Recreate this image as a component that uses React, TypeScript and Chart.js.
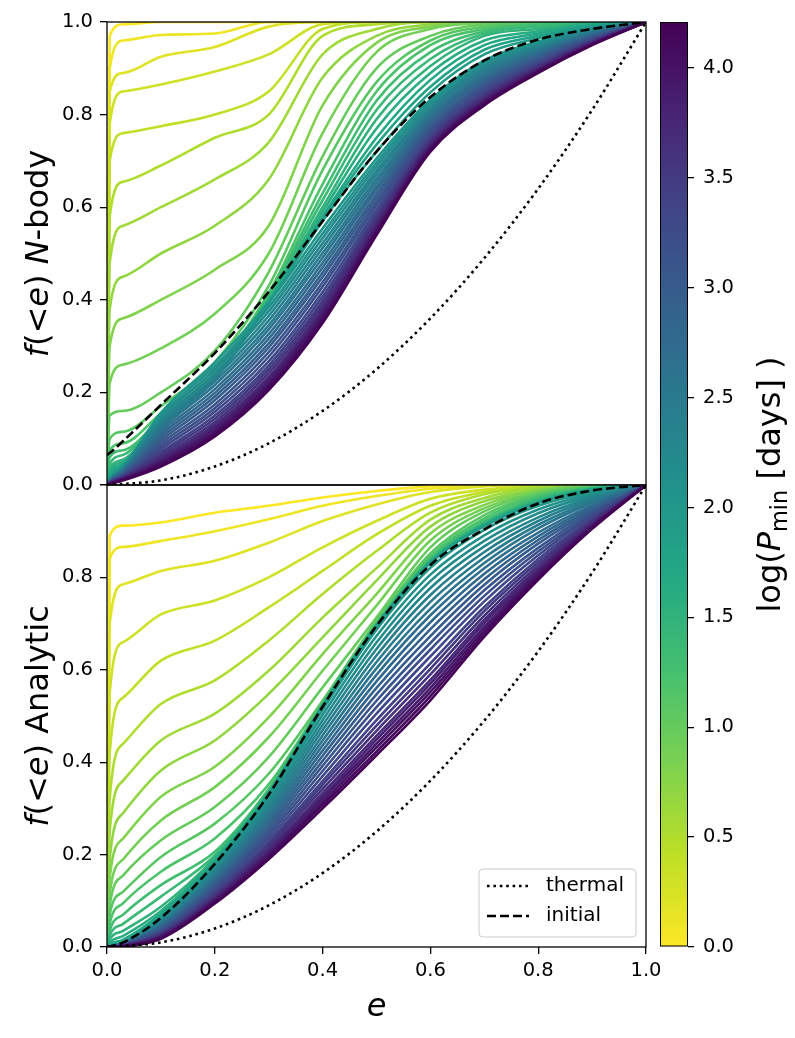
import React, { useEffect, useRef } from "react";
import { Chart, registerables } from "chart.js";

Chart.register(...registerables);

const FONT = '"DejaVu Sans", "Liberation Sans", sans-serif';

// Eccentricity sample points shared by every cumulative curve
const E_GRID = [0, 0.005, 0.03, 0.1, 0.2, 0.3, 0.4, 0.5, 0.6, 0.7, 0.8, 0.9, 1.0];

// log10 of the minimum period (days) attached to each curve
const LOG_PMIN = [
  0.0, 0.1, 0.2, 0.3, 0.4, 0.5, 0.6, 0.7, 0.8, 0.9, 1.0, 1.1, 1.2, 1.3, 1.4,
  1.5, 1.6, 1.7, 1.8, 1.9, 2.0, 2.1, 2.2, 2.3, 2.4, 2.5, 2.6, 2.7, 2.8, 2.9,
  3.0, 3.1, 3.2, 3.3, 3.4, 3.5, 3.6, 3.7, 3.8, 3.9, 4.0, 4.1, 4.2,
];

// Colour bar range and its tick values
const CBAR_RANGE = [0, 4.21];
const CBAR_TICKS = [0.0, 0.5, 1.0, 1.5, 2.0, 2.5, 3.0, 3.5, 4.0];
const F_TICKS = [0.0, 0.2, 0.4, 0.6, 0.8, 1.0];
const E_TICKS = [0.0, 0.2, 0.4, 0.6, 0.8, 1.0];

// N-body cumulative fractions f(<e), one row per log Pmin, sampled on E_GRID
const NBODY_CURVES = [
  [0, 0.97, 0.995, 1, 1, 1, 1, 1, 1, 1, 1, 1, 1],
  [0, 0.9, 0.96, 0.972, 0.975, 1, 1, 1, 1, 1, 1, 1, 1],
  [0, 0.85, 0.89, 0.925, 0.946, 0.99, 1, 1, 1, 1, 1, 1, 1],
  [0, 0.78, 0.85, 0.865, 0.893, 0.93, 0.995, 1, 1, 1, 1, 1, 1],
  [0, 0.7, 0.76, 0.775, 0.8, 0.85, 0.985, 1, 1, 1, 1, 1, 1],
  [0, 0.58, 0.655, 0.69, 0.75, 0.8, 0.97, 0.995, 1, 1, 1, 1, 1],
  [0, 0.48, 0.56, 0.6, 0.66, 0.74, 0.93, 0.985, 1, 1, 1, 1, 1],
  [0, 0.38, 0.45, 0.5, 0.56, 0.66, 0.88, 0.97, 0.995, 1, 1, 1, 1],
  [0, 0.3, 0.36, 0.4, 0.465, 0.56, 0.82, 0.955, 0.99, 1, 1, 1, 1],
  [0, 0.22, 0.26, 0.295, 0.37, 0.5, 0.76, 0.935, 0.985, 0.998, 1, 1, 1],
  [0, 0.15, 0.16, 0.2, 0.29, 0.46, 0.71, 0.9, 0.97, 0.995, 1, 1, 1],
  [0, 0.1, 0.115, 0.17, 0.265, 0.43, 0.68, 0.87, 0.96, 0.99, 0.998, 1, 1],
  [0, 0.075, 0.09, 0.155, 0.25, 0.415, 0.65, 0.85, 0.95, 0.985, 0.996, 1, 1],
  [0, 0.06, 0.075, 0.145, 0.245, 0.41, 0.63, 0.83, 0.935, 0.98, 0.994, 0.999, 1],
  [0, 0.045, 0.065, 0.14, 0.24, 0.405, 0.615, 0.81, 0.92, 0.975, 0.99, 0.998, 1],
  [0, 0.035, 0.055, 0.135, 0.237, 0.4, 0.6, 0.79, 0.905, 0.97, 0.985, 0.997, 1],
  [0, 0.028, 0.05, 0.13, 0.234, 0.398, 0.59, 0.77, 0.89, 0.96, 0.98, 0.996, 1],
  [0, 0.022, 0.046, 0.128, 0.232, 0.396, 0.58, 0.75, 0.875, 0.95, 0.975, 0.994, 1],
  [0, 0.018, 0.044, 0.126, 0.23, 0.394, 0.575, 0.735, 0.86, 0.94, 0.97, 0.992, 1],
  [0, 0.015, 0.042, 0.124, 0.228, 0.392, 0.57, 0.72, 0.848, 0.93, 0.965, 0.99, 1],
  [0, 0.012, 0.039, 0.156, 0.265, 0.394, 0.554, 0.705, 0.832, 0.917, 0.958, 0.987, 1],
  [0, 0.011, 0.038, 0.15, 0.257, 0.384, 0.543, 0.696, 0.826, 0.912, 0.954, 0.985, 1],
  [0, 0.011, 0.036, 0.144, 0.249, 0.375, 0.533, 0.688, 0.82, 0.907, 0.951, 0.983, 1],
  [0, 0.01, 0.035, 0.138, 0.24, 0.365, 0.522, 0.679, 0.814, 0.902, 0.947, 0.981, 1],
  [0, 0.01, 0.033, 0.132, 0.232, 0.355, 0.512, 0.671, 0.809, 0.897, 0.944, 0.979, 1],
  [0, 0.009, 0.032, 0.126, 0.224, 0.345, 0.501, 0.662, 0.803, 0.892, 0.94, 0.977, 1],
  [0, 0.009, 0.03, 0.12, 0.216, 0.336, 0.491, 0.654, 0.797, 0.887, 0.937, 0.975, 1],
  [0, 0.008, 0.029, 0.114, 0.207, 0.326, 0.48, 0.645, 0.791, 0.882, 0.933, 0.974, 1],
  [0, 0.008, 0.027, 0.108, 0.199, 0.316, 0.47, 0.637, 0.786, 0.877, 0.93, 0.972, 1],
  [0, 0.007, 0.026, 0.102, 0.191, 0.306, 0.459, 0.628, 0.78, 0.872, 0.926, 0.97, 1],
  [0, 0.007, 0.024, 0.096, 0.183, 0.297, 0.449, 0.62, 0.774, 0.867, 0.923, 0.968, 1],
  [0, 0.006, 0.023, 0.09, 0.174, 0.287, 0.438, 0.611, 0.768, 0.862, 0.919, 0.966, 1],
  [0, 0.006, 0.021, 0.084, 0.166, 0.277, 0.428, 0.603, 0.763, 0.857, 0.916, 0.964, 1],
  [0, 0.005, 0.02, 0.078, 0.158, 0.267, 0.417, 0.594, 0.757, 0.852, 0.912, 0.962, 1],
  [0, 0.005, 0.018, 0.072, 0.15, 0.258, 0.407, 0.586, 0.751, 0.847, 0.909, 0.96, 1],
  [0, 0.004, 0.017, 0.068, 0.143, 0.25, 0.398, 0.579, 0.746, 0.843, 0.906, 0.959, 1],
  [0, 0.004, 0.016, 0.063, 0.136, 0.242, 0.39, 0.572, 0.742, 0.839, 0.903, 0.957, 1],
  [0, 0.004, 0.015, 0.058, 0.13, 0.234, 0.382, 0.566, 0.737, 0.835, 0.901, 0.956, 1],
  [0, 0.003, 0.014, 0.054, 0.125, 0.228, 0.375, 0.56, 0.734, 0.832, 0.898, 0.955, 1],
  [0, 0.003, 0.013, 0.051, 0.12, 0.223, 0.369, 0.555, 0.73, 0.829, 0.896, 0.953, 1],
  [0, 0.003, 0.012, 0.047, 0.115, 0.217, 0.363, 0.55, 0.727, 0.826, 0.894, 0.952, 1],
  [0, 0.002, 0.011, 0.044, 0.11, 0.211, 0.356, 0.545, 0.723, 0.823, 0.892, 0.951, 1],
  [0, 0.002, 0.01, 0.04, 0.105, 0.205, 0.35, 0.54, 0.72, 0.82, 0.89, 0.95, 1],
];

// Analytic cumulative fractions f(<e), one row per log Pmin, sampled on E_GRID
const ANALYTIC_CURVES = [
  [0, 0.89, 0.912, 0.919, 0.94, 0.955, 0.973, 0.987, 0.997, 1, 1, 1, 1],
  [0, 0.84, 0.866, 0.879, 0.9, 0.926, 0.955, 0.976, 0.992, 0.999, 1, 1, 1],
  [0, 0.7, 0.785, 0.814, 0.836, 0.875, 0.922, 0.958, 0.985, 0.997, 1, 1, 1],
  [0, 0.55, 0.66, 0.72, 0.75, 0.8, 0.865, 0.922, 0.97, 0.99, 0.998, 1, 1],
  [0, 0.42, 0.54, 0.62, 0.663, 0.735, 0.814, 0.893, 0.955, 0.985, 0.997, 1, 1],
  [0, 0.32, 0.44, 0.526, 0.577, 0.663, 0.764, 0.857, 0.94, 0.98, 0.996, 1, 1],
  [0, 0.25, 0.36, 0.447, 0.505, 0.598, 0.713, 0.82, 0.925, 0.972, 0.994, 0.999, 1],
  [0, 0.19, 0.29, 0.382, 0.447, 0.548, 0.67, 0.793, 0.91, 0.965, 0.99, 0.999, 1],
  [0, 0.15, 0.235, 0.325, 0.39, 0.497, 0.634, 0.764, 0.895, 0.957, 0.988, 0.998, 1],
  [0, 0.115, 0.19, 0.274, 0.346, 0.454, 0.598, 0.739, 0.88, 0.95, 0.985, 0.998, 1],
  [0, 0.09, 0.155, 0.231, 0.303, 0.411, 0.562, 0.713, 0.865, 0.943, 0.982, 0.997, 1],
  [0, 0.07, 0.12, 0.195, 0.267, 0.375, 0.533, 0.705, 0.852, 0.935, 0.979, 0.996, 1],
  [0, 0.05, 0.095, 0.163, 0.235, 0.352, 0.527, 0.7, 0.845, 0.928, 0.976, 0.995, 1],
  [0, 0.035, 0.07, 0.134, 0.206, 0.342, 0.525, 0.698, 0.84, 0.922, 0.972, 0.994, 1],
  [0, 0.025, 0.05, 0.109, 0.198, 0.337, 0.524, 0.697, 0.837, 0.918, 0.969, 0.993, 1],
  [0, 0.017, 0.035, 0.087, 0.193, 0.335, 0.523, 0.697, 0.835, 0.916, 0.966, 0.992, 1],
  [0, 0.01, 0.024, 0.078, 0.189, 0.334, 0.522, 0.696, 0.834, 0.914, 0.964, 0.991, 1],
  [0, 0.006, 0.016, 0.072, 0.186, 0.333, 0.522, 0.696, 0.833, 0.913, 0.963, 0.99, 1],
  [0, 0.004, 0.01, 0.068, 0.183, 0.332, 0.521, 0.696, 0.832, 0.912, 0.962, 0.989, 1],
  [0, 0.002, 0.006, 0.065, 0.181, 0.331, 0.521, 0.695, 0.831, 0.911, 0.961, 0.989, 1],
  [0, 0.001, 0.01, 0.062, 0.177, 0.326, 0.513, 0.687, 0.821, 0.903, 0.955, 0.985, 1],
  [0, 0.001, 0.009, 0.059, 0.173, 0.319, 0.502, 0.673, 0.806, 0.891, 0.947, 0.981, 1],
  [0, 0.001, 0.009, 0.057, 0.169, 0.312, 0.491, 0.659, 0.792, 0.879, 0.939, 0.977, 1],
  [0, 0.001, 0.008, 0.055, 0.165, 0.305, 0.48, 0.645, 0.777, 0.867, 0.93, 0.973, 1],
  [0, 0.001, 0.008, 0.053, 0.16, 0.298, 0.469, 0.631, 0.762, 0.855, 0.922, 0.969, 1],
  [0, 0.001, 0.007, 0.05, 0.156, 0.291, 0.458, 0.617, 0.747, 0.843, 0.914, 0.965, 1],
  [0, 0.001, 0.007, 0.048, 0.152, 0.284, 0.447, 0.603, 0.732, 0.831, 0.906, 0.961, 1],
  [0, 0.001, 0.007, 0.046, 0.147, 0.277, 0.436, 0.589, 0.718, 0.82, 0.897, 0.956, 1],
  [0, 0.001, 0.006, 0.044, 0.143, 0.27, 0.425, 0.575, 0.703, 0.808, 0.889, 0.952, 1],
  [0, 0.001, 0.006, 0.041, 0.139, 0.263, 0.414, 0.561, 0.688, 0.796, 0.881, 0.948, 1],
  [0, 0, 0.005, 0.039, 0.134, 0.256, 0.403, 0.547, 0.673, 0.784, 0.873, 0.944, 1],
  [0, 0, 0.005, 0.037, 0.13, 0.249, 0.392, 0.533, 0.658, 0.772, 0.864, 0.94, 1],
  [0, 0, 0.004, 0.035, 0.126, 0.242, 0.381, 0.519, 0.644, 0.76, 0.856, 0.936, 1],
  [0, 0, 0.004, 0.032, 0.122, 0.235, 0.37, 0.505, 0.629, 0.748, 0.848, 0.932, 1],
  [0, 0, 0.003, 0.03, 0.117, 0.228, 0.359, 0.491, 0.614, 0.736, 0.84, 0.927, 1],
  [0, 0, 0.003, 0.028, 0.114, 0.222, 0.351, 0.479, 0.602, 0.727, 0.833, 0.924, 1],
  [0, 0, 0.003, 0.027, 0.11, 0.217, 0.342, 0.468, 0.59, 0.717, 0.826, 0.921, 1],
  [0, 0, 0.002, 0.025, 0.107, 0.211, 0.333, 0.457, 0.578, 0.708, 0.82, 0.917, 1],
  [0, 0, 0.002, 0.023, 0.104, 0.207, 0.326, 0.449, 0.57, 0.701, 0.815, 0.915, 1],
  [0, 0, 0.002, 0.022, 0.102, 0.203, 0.32, 0.44, 0.561, 0.693, 0.81, 0.912, 1],
  [0, 0, 0.002, 0.021, 0.099, 0.198, 0.313, 0.432, 0.552, 0.686, 0.805, 0.91, 1],
  [0, 0, 0.001, 0.019, 0.097, 0.194, 0.307, 0.423, 0.543, 0.679, 0.8, 0.908, 1],
  [0, 0, 0.001, 0.018, 0.094, 0.19, 0.3, 0.415, 0.534, 0.672, 0.795, 0.905, 1],
];

// Initial eccentricity distribution, sampled on E_GRID
const INITIAL_NBODY = [0.065, 0.069, 0.095, 0.173, 0.285, 0.417, 0.57, 0.72, 0.838, 0.917, 0.962, 0.985, 1];
const INITIAL_ANALYTIC = [0, 0.001, 0.01, 0.063, 0.18, 0.33, 0.52, 0.695, 0.827, 0.904, 0.96, 0.988, 1];

// Thermal distribution
const THERMAL_E = [0, 0.1, 0.2, 0.3, 0.4, 0.5, 0.6, 0.7, 0.8, 0.9, 1.0];
const THERMAL_F = [0, 0.01, 0.04, 0.09, 0.16, 0.25, 0.36, 0.49, 0.64, 0.81, 1.0];

const VIRIDIS = [
  "#440154", "#482475", "#414487", "#355f8d", "#2a788e", "#21918c",
  "#22a884", "#44bf70", "#7ad151", "#bddf26", "#fde725",
];

function hexRgb(h: string) {
  return [1, 3, 5].map((i) => parseInt(h.slice(i, i + 2), 16));
}

function viridis(t: number) {
  const c = Math.max(0, Math.min(1, t)) * 10;
  const i = Math.min(9, Math.floor(c));
  const f = c - i;
  const a = hexRgb(VIRIDIS[i]);
  const b = hexRgb(VIRIDIS[i + 1]);
  const m = a.map((v, k) => Math.round(v + (b[k] - v) * f));
  return `rgb(${m[0]},${m[1]},${m[2]})`;
}

// reversed viridis: small log Pmin is yellow, large is purple
function colorFor(lp: number) {
  return viridis(1 - (lp - CBAR_RANGE[0]) / (CBAR_RANGE[1] - CBAR_RANGE[0]));
}

// geometry of the drawing (pixels)
const W = 795;
const H = 1038;
const AX_LEFT = 107;
const AX_RIGHT = 646;
const TOP_Y0 = 22;
const MID_Y = 485;
const BOT_Y1 = 947;
const CB_LEFT = 660;
const CB_RIGHT = 688;
const LW = 2.6;
const DOTTED = [2.6, 3.8];
const DASHED = [9, 4];

type Seg = { t: string; i?: boolean; sub?: boolean };

function drawRich(ctx: CanvasRenderingContext2D, segs: Seg[], cx: number, cy: number, size: number, rotated: boolean) {
  ctx.save();
  ctx.translate(cx, cy);
  if (rotated) ctx.rotate(-Math.PI / 2);
  const fontOf = (s: Seg) => `${s.i ? "italic " : ""}${s.sub ? size * 0.7 : size}px ${FONT}`;
  const widths = segs.map((s) => {
    ctx.font = fontOf(s);
    return ctx.measureText(s.t).width;
  });
  const total = widths.reduce((a, b) => a + b, 0);
  let x = -total / 2;
  ctx.fillStyle = "#000";
  ctx.textBaseline = "alphabetic";
  ctx.textAlign = "left";
  segs.forEach((s, k) => {
    ctx.font = fontOf(s);
    ctx.fillText(s.t, x, size * 0.36 + (s.sub ? size * 0.22 : 0));
    x += widths[k];
  });
  ctx.restore();
}

function lineDatasets(curves: number[][], initial: number[]) {
  const ds: any[] = [];
  ds.push({
    label: "thermal",
    data: THERMAL_E.map((e, i) => ({ x: e, y: THERMAL_F[i] })),
    borderColor: "#000",
    borderWidth: LW,
    borderDash: DOTTED,
    pointRadius: 0,
    cubicInterpolationMode: "monotone",
    clip: 0,
  });
  ds.push({
    label: "initial",
    data: E_GRID.map((e, i) => ({ x: e, y: initial[i] })),
    borderColor: "#000",
    borderWidth: LW,
    borderDash: DASHED,
    pointRadius: 0,
    cubicInterpolationMode: "monotone",
    clip: 0,
  });
  for (let k = curves.length - 1; k >= 0; k--) {
    ds.push({
      label: `logP ${LOG_PMIN[k].toFixed(1)}`,
      data: E_GRID.map((e, i) => ({ x: e, y: curves[k][i] })),
      borderColor: colorFor(LOG_PMIN[k]),
      borderWidth: LW,
      pointRadius: 0,
      cubicInterpolationMode: "monotone",
      clip: 0,
    });
  }
  return ds;
}

const tickFont = { family: FONT, size: 19.5 };

function yScale(hideTop: boolean) {
  return {
    type: "linear",
    min: 0,
    max: 1,
    afterFit: (s: any) => {
      s.width = AX_LEFT;
    },
    afterBuildTicks: (s: any) => {
      s.ticks = F_TICKS.map((v) => ({ value: v }));
    },
    ticks: {
      font: tickFont,
      color: "#000",
      padding: 7,
      callback: (v: any) => (hideTop && Number(v) >= 1 ? "" : Number(v).toFixed(1)),
    },
    grid: { drawOnChartArea: false, drawTicks: true, tickLength: 7, color: "#000", lineWidth: 1.3 },
    border: { display: false },
  };
}

function panelFrame(extra?: (chart: any) => void) {
  return {
    id: "panelFrame",
    afterDraw(chart: any) {
      const { ctx, chartArea } = chart;
      ctx.save();
      ctx.strokeStyle = "#000";
      ctx.lineWidth = 1.3;
      ctx.strokeRect(chartArea.left, chartArea.top, chartArea.right - chartArea.left, chartArea.bottom - chartArea.top);
      ctx.restore();
      if (extra) extra(chart);
    },
  };
}

function legendBox(ctx: CanvasRenderingContext2D) {
  const x = 479, y = 869, w = 157, h = 68, r = 4;
  ctx.save();
  ctx.beginPath();
  ctx.moveTo(x + r, y);
  ctx.arcTo(x + w, y, x + w, y + h, r);
  ctx.arcTo(x + w, y + h, x, y + h, r);
  ctx.arcTo(x, y + h, x, y, r);
  ctx.arcTo(x, y, x + w, y, r);
  ctx.closePath();
  ctx.fillStyle = "rgba(255,255,255,0.8)";
  ctx.fill();
  ctx.strokeStyle = "#cccccc";
  ctx.lineWidth = 1;
  ctx.stroke();
  const rows = [
    { label: "thermal", dash: DOTTED, yy: 886 },
    { label: "initial", dash: DASHED, yy: 916 },
  ];
  rows.forEach((row) => {
    ctx.beginPath();
    ctx.setLineDash(row.dash);
    ctx.strokeStyle = "#000";
    ctx.lineWidth = LW;
    ctx.moveTo(487, row.yy);
    ctx.lineTo(529, row.yy);
    ctx.stroke();
    ctx.setLineDash([]);
    ctx.fillStyle = "#000";
    ctx.font = `20px ${FONT}`;
    ctx.textBaseline = "middle";
    ctx.textAlign = "left";
    ctx.fillText(row.label, 546, row.yy);
  });
  ctx.restore();
}

function topConfig(): any {
  return {
    type: "line",
    data: { datasets: lineDatasets(NBODY_CURVES, INITIAL_NBODY) },
    options: {
      responsive: false,
      animation: false,
      devicePixelRatio: 1,
      events: [],
      layout: { padding: { left: 0, top: TOP_Y0, right: W - AX_RIGHT, bottom: H - MID_Y } },
      plugins: { legend: { display: false }, tooltip: { enabled: false } },
      scales: {
        x: { type: "linear", min: 0, max: 1, display: false },
        y: yScale(false),
      },
    },
    plugins: [
      panelFrame((chart) => {
        drawRich(
          chart.ctx,
          [{ t: "f", i: true }, { t: "(<" }, { t: "e", i: true }, { t: ")" }, { t: " " }, { t: "N", i: true }, { t: "-body" }],
          36,
          (TOP_Y0 + MID_Y) / 2,
          32,
          true
        );
      }),
    ],
  };
}

function bottomConfig(): any {
  return {
    type: "line",
    data: { datasets: lineDatasets(ANALYTIC_CURVES, INITIAL_ANALYTIC) },
    options: {
      responsive: false,
      animation: false,
      devicePixelRatio: 1,
      events: [],
      layout: { padding: { left: 0, top: MID_Y, right: W - AX_RIGHT, bottom: 0 } },
      plugins: { legend: { display: false }, tooltip: { enabled: false } },
      scales: {
        x: {
          type: "linear",
          min: 0,
          max: 1,
          afterFit: (s: any) => {
            s.height = H - BOT_Y1;
          },
          afterBuildTicks: (s: any) => {
            s.ticks = E_TICKS.map((v) => ({ value: v }));
          },
          ticks: {
            font: tickFont,
            color: "#000",
            padding: 5,
            maxRotation: 0,
            autoSkip: false,
            callback: (v: any) => Number(v).toFixed(1),
          },
          grid: { drawOnChartArea: false, drawTicks: true, tickLength: 7, color: "#000", lineWidth: 1.3 },
          border: { display: false },
        },
        y: yScale(true),
      },
    },
    plugins: [
      panelFrame((chart) => {
        const ctx = chart.ctx;
        drawRich(
          ctx,
          [{ t: "f", i: true }, { t: "(<" }, { t: "e", i: true }, { t: ")" }, { t: " Analytic" }],
          36,
          (MID_Y + BOT_Y1) / 2,
          32,
          true
        );
        drawRich(ctx, [{ t: "e", i: true }], (AX_LEFT + AX_RIGHT) / 2, 1004, 32, false);
        legendBox(ctx);
      }),
    ],
  };
}

function colorbarConfig(): any {
  return {
    type: "bar",
    data: {
      labels: [""],
      datasets: [
        {
          data: [CBAR_RANGE[1]],
          backgroundColor: (c: any) => {
            const area = c.chart.chartArea;
            if (!area) return VIRIDIS[5];
            const g = c.chart.ctx.createLinearGradient(0, area.bottom, 0, area.top);
            for (let i = 0; i <= 10; i++) g.addColorStop(i / 10, VIRIDIS[10 - i]);
            return g;
          },
          borderColor: "#000",
          borderWidth: 1.3,
          borderSkipped: false,
          barPercentage: 1,
          categoryPercentage: 1,
        },
      ],
    },
    options: {
      responsive: false,
      animation: false,
      devicePixelRatio: 1,
      events: [],
      layout: { padding: { left: CB_LEFT, top: TOP_Y0, right: 0, bottom: H - BOT_Y1 } },
      plugins: { legend: { display: false }, tooltip: { enabled: false } },
      scales: {
        x: { display: false },
        y: {
          position: "right",
          min: CBAR_RANGE[0],
          max: CBAR_RANGE[1],
          afterFit: (s: any) => {
            s.width = W - CB_RIGHT;
          },
          afterBuildTicks: (s: any) => {
            s.ticks = CBAR_TICKS.map((v) => ({ value: v }));
          },
          ticks: {
            font: tickFont,
            color: "#000",
            padding: 9,
            callback: (v: any) => Number(v).toFixed(1),
          },
          grid: { drawOnChartArea: false, drawTicks: true, tickLength: 6, color: "#000", lineWidth: 1.3 },
          border: { display: false },
        },
      },
    },
    plugins: [
      {
        id: "cbarLabel",
        afterDraw(chart: any) {
          drawRich(
            chart.ctx,
            [{ t: "log(" }, { t: "P", i: true }, { t: "min", sub: true }, { t: " [days] )" }],
            768,
            (TOP_Y0 + BOT_Y1) / 2,
            32,
            true
          );
        },
      },
    ],
  };
}

export default function App() {
  const topRef = useRef<HTMLCanvasElement | null>(null);
  const botRef = useRef<HTMLCanvasElement | null>(null);
  const cbRef = useRef<HTMLCanvasElement | null>(null);

  useEffect(() => {
    const charts: Chart[] = [];
    if (topRef.current) charts.push(new Chart(topRef.current, topConfig()));
    if (botRef.current) charts.push(new Chart(botRef.current, bottomConfig()));
    if (cbRef.current) charts.push(new Chart(cbRef.current, colorbarConfig()));
    return () => charts.forEach((c) => c.destroy());
  }, []);

  const cv: React.CSSProperties = { position: "absolute", left: 0, top: 0, width: W, height: H };
  return (
    <div style={{ position: "absolute", left: 0, top: 0, width: W, height: H, background: "#fff" }}>
      <canvas ref={topRef} width={W} height={H} style={cv} />
      <canvas ref={botRef} width={W} height={H} style={cv} />
      <canvas ref={cbRef} width={W} height={H} style={cv} />
    </div>
  );
}
